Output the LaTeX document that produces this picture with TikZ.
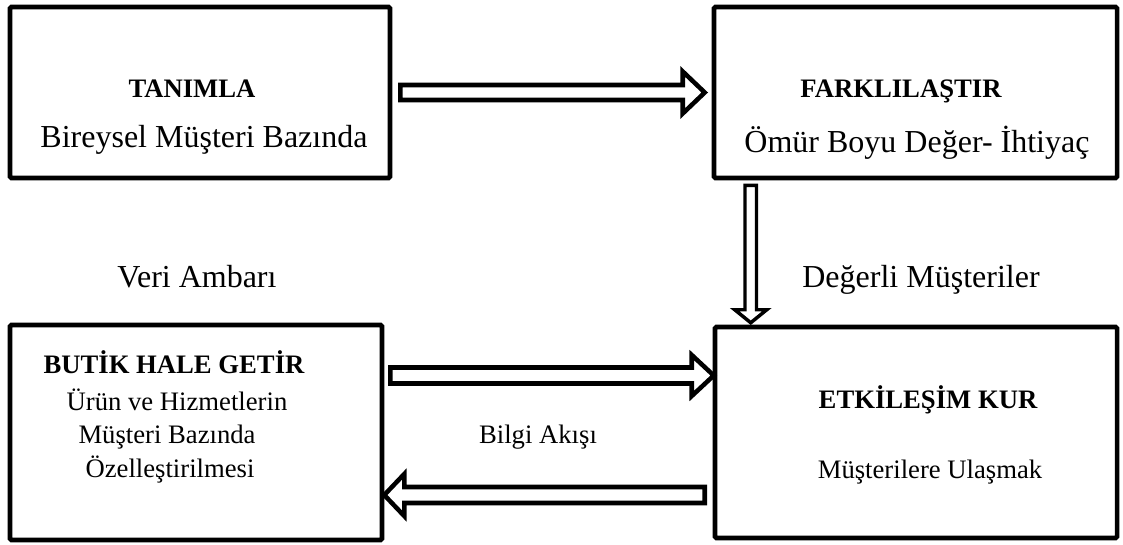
\documentclass[tikz,border=0pt]{standalone}
\usepackage{fontspec}
\setmainfont{Liberation Serif}
\usetikzlibrary{calc}
\begin{document}
\begin{tikzpicture}[x=0.75pt,y=-0.75pt,
  box/.style={draw,line width=3.4pt,rounded corners=1pt,inner sep=0pt},
  harrow/.style={draw,fill=white,line width=3.4pt,line join=miter,miter limit=10},
  varrow/.style={draw,fill=white,line width=2.6pt,line join=miter,miter limit=10},
  hd/.style={anchor=base,inner sep=0pt,font=\bfseries\fontsize{20}{24}\selectfont},
  big/.style={anchor=base,inner sep=0pt,font=\fontsize{24}{28}\selectfont},
  txt/.style={anchor=base,inner sep=0pt,font=\fontsize{20}{24}\selectfont}]
\useasboundingbox (0,0) rectangle (1123,544);
% boxes
\node[box,minimum width=285pt,minimum height=128.25pt] (b1) at (200,92.5) {};
\node[box,minimum width=302.25pt,minimum height=128.25pt] (b2) at (915.5,92.5) {};
\node[box,minimum width=279pt,minimum height=161.25pt] (b3) at (196,432.5) {};
\node[box,minimum width=301.5pt,minimum height=158.25pt] (b4) at (916,432.5) {};
% texts
\node[hd] (t1) at (192,97) {TANIMLA};
\node[big] (t2) at (204,147) {Bireysel Müşteri Bazında};
\node[hd] (t3) at (901,97) {FARKLILAŞTIR};
\node[big] (t4) at (917,152) {Ömür Boyu Değer- İhtiyaç};
\node[big] (l1) at (197,287) {Veri Ambarı};
\node[big] (l2) at (921,287) {Değerli Müşteriler};
\node[hd] (t5) at (174,373) {BUTİK HALE GETİR};
\node[txt] (t6) at (177,410) {Ürün ve Hizmetlerin};
\node[txt] (t7) at (167,443) {Müşteri Bazında};
\node[txt] (t8) at (170,477) {Özelleştirilmesi};
\node[txt] (l3) at (538,443) {Bilgi Akışı};
\node[hd] (t9) at (928,408) {ETKİLEŞİM KUR};
\node[txt] (t10) at (930,478) {Müşterilere Ulaşmak};
% arrow coordinates
\coordinate (a1s) at ($(b1.east)+(8,0)$);
\coordinate (a1t) at ($(b2.west)+(-7,0)$);
\coordinate (a2s) at ($(b2.south west)+(39,5)$);
\coordinate (a2t) at ($(b4.north west)+(38,-2)$);
\coordinate (a3s) at ($(b3.east)+(6,-57)$);
\coordinate (a3t) at ($(b4.west)+(1,-57)$);
\coordinate (a4s) at ($(b4.west)+(-8,62.5)$);
\coordinate (a4t) at ($(b3.east)+(0,62.5)$);
% arrow 1: right
\draw[harrow] ($(a1s)+(0,-7.5)$) -- ($(a1t)+(-22,-7.5)$) -- ($(a1t)+(-22,-21)$) -- (a1t)
  -- ($(a1t)+(-22,21)$) -- ($(a1t)+(-22,7.5)$) -- ($(a1s)+(0,7.5)$) -- cycle;
% arrow 2: down
\draw[varrow] ($(a2s)+(-5.75,0)$) -- ($(a2t)+(-5.75,-13)$) -- ($(a2t)+(-16,-13)$) -- (a2t)
  -- ($(a2t)+(16,-13)$) -- ($(a2t)+(5.75,-13)$) -- ($(a2s)+(5.75,0)$) -- cycle;
% arrow 3: right
\draw[harrow] ($(a3s)+(0,-8)$) -- ($(a3t)+(-22,-8)$) -- ($(a3t)+(-22,-20.5)$) -- (a3t)
  -- ($(a3t)+(-22,20.5)$) -- ($(a3t)+(-22,8)$) -- ($(a3s)+(0,8)$) -- cycle;
% arrow 4: left
\draw[harrow] ($(a4s)+(0,-8)$) -- ($(a4t)+(20,-8)$) -- ($(a4t)+(20,-21)$) -- (a4t)
  -- ($(a4t)+(20,21)$) -- ($(a4t)+(20,8)$) -- ($(a4s)+(0,8)$) -- cycle;
\end{tikzpicture}
\end{document}
